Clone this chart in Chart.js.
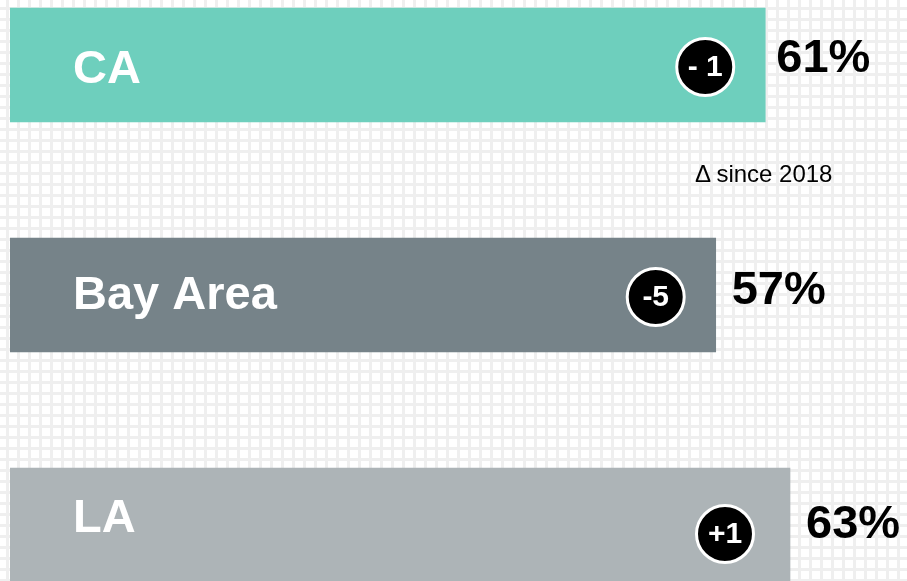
<!DOCTYPE html>
<html>
<head>
<meta charset="utf-8">
<script src="https://cdn.jsdelivr.net/npm/chart.js@4/dist/chart.umd.min.js"></script>
<style>
  html, body {
    margin: 0;
    padding: 0;
    width: 907px;
    height: 581px;
    overflow: hidden;
    background-color: #fff;
    background-image:
      linear-gradient(to right, #efefef 3px, transparent 3px),
      linear-gradient(to bottom, #efefef 3px, transparent 3px);
    background-size: 11px 11px;
    background-position: 6px 7px;
    font-family: "Liberation Sans", Arial, sans-serif;
  }
  #wrap {
    position: absolute;
    left: 0;
    top: -50px;
    width: 907px;
    height: 690px;
  }
  #note {
    position: absolute;
    left: 695px;
    top: 160px;
    font-size: 24px;
    color: #000;
    white-space: nowrap;
  }
</style>
</head>
<body>
<div id="wrap"><canvas id="chart"></canvas></div>
<div id="note">Δ since 2018</div>

<script>
/* ── Data ───────────────────────────────────────────────────── */

const regions = ["CA", "Bay Area", "LA"];
const shares  = [61, 57, 63];
const changes = ["- 1", "-5", "+1"];
const colors  = ["#6ecfbd", "#768389", "#adb4b7"];

/* ── Labels plugin: name, change badge, percentage ──────────── */

const barLabels = {
  id: "barLabels",
  afterDatasetsDraw(chart, args, opts) {
    const ctx = chart.ctx;
    const bars = chart.getDatasetMeta(0).data;
    bars.forEach((bar, i) => {
      const cy = bar.y;
      ctx.save();

      // region name inside bar
      ctx.fillStyle = "#fff";
      ctx.font = "bold 47px 'Liberation Sans', Arial, sans-serif";
      ctx.textAlign = "left";
      ctx.textBaseline = "middle";
      ctx.fillText(regions[i], bar.base + 63, cy + opts.nameNudge[i]);

      // change badge
      const bx = bar.x - opts.badgeInset[i];
      const by = cy + opts.badgeNudge[i];
      ctx.beginPath();
      ctx.arc(bx, by, 28.5, 0, Math.PI * 2);
      ctx.fillStyle = "#000";
      ctx.fill();
      ctx.lineWidth = 3;
      ctx.strokeStyle = "#fff";
      ctx.stroke();
      ctx.fillStyle = "#fff";
      ctx.font = "bold 30px 'Liberation Sans', Arial, sans-serif";
      ctx.textAlign = "center";
      ctx.fillText(changes[i], bx, by + 1);

      // percentage after bar
      ctx.fillStyle = "#000";
      ctx.font = "bold 47px 'Liberation Sans', Arial, sans-serif";
      ctx.textAlign = "left";
      ctx.fillText(shares[i] + "%", bar.x + opts.pctGap[i], cy + opts.pctNudge[i]);

      ctx.restore();
    });
  }
};

/* ── Chart ──────────────────────────────────────────────────── */

new Chart(document.getElementById("chart"), {
  type: "bar",
  data: {
    labels: regions,
    datasets: [{
      data: shares,
      backgroundColor: colors,
      borderWidth: 0,
      barThickness: 114,
    }],
  },
  options: {
    indexAxis: "y",
    responsive: true,
    maintainAspectRatio: false,
    animation: false,
    layout: { padding: { left: 10, right: 0, top: 0, bottom: 0 } },
    scales: {
      x: { display: false, min: 0, max: 72.45 },
      y: { display: false },
    },
    plugins: {
      legend: { display: false },
      tooltip: { enabled: false },
      barLabels: {
        nameNudge:  [5, 1, -6],
        badgeInset: [60, 60, 65],
        badgeNudge: [2, 2, 9],
        pctGap:     [11, 16, 16],
        pctNudge:   [-6, -4, 0],
      },
    },
  },
  plugins: [barLabels],
});
</script>
</body>
</html>
